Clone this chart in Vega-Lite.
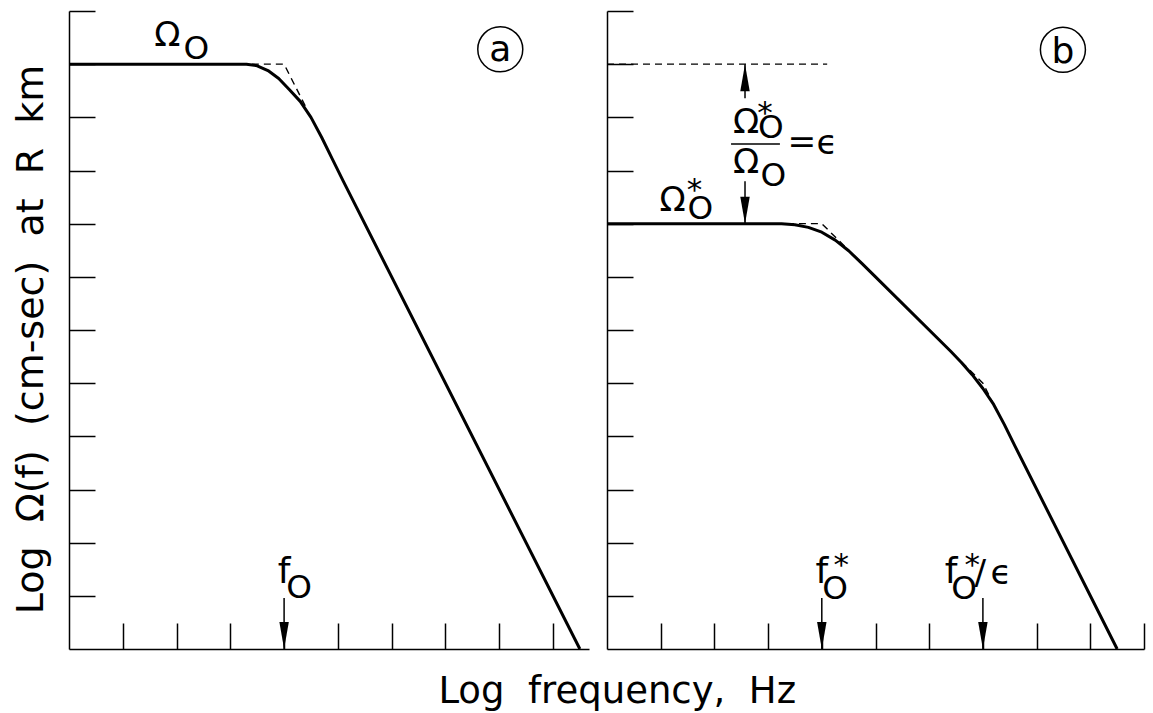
{
  "$schema": "https://vega.github.io/schema/vega-lite/v6.json",
  "background": "white",
  "padding": {"left": 12, "top": 10, "right": 5, "bottom": 2},
  "config": {
    "view": {"stroke": null},
    "font": "DejaVu Sans",
    "axis": {
      "labels": false,
      "grid": false,
      "tickSize": -26,
      "tickWidth": 1.5,
      "tickColor": "black",
      "domainColor": "black",
      "domainWidth": 1.5,
      "titleFont": "DejaVu Sans",
      "titleFontSize": 38,
      "titleFontWeight": "normal",
      "titleColor": "black",
      "titlePadding": 18
    }
  },
  "title": {
    "text": "Log\u00a0\u00a0frequency,\u00a0\u00a0Hz",
    "orient": "bottom",
    "anchor": "start",
    "align": "center",
    "dx": 605,
    "font": "DejaVu Sans",
    "fontSize": 37,
    "fontWeight": "normal",
    "color": "black",
    "baseline": "alphabetic",
    "offset": 52
  },
  "datasets": {
    "linesA": [
      {"s": "solid", "seg": "a", "x": 0, "y": 11},
      {"s": "solid", "seg": "a", "x": 3.3, "y": 11},
      {"s": "solid", "seg": "a", "x": 3.5, "y": 10.97},
      {"s": "solid", "seg": "a", "x": 3.7, "y": 10.88},
      {"s": "solid", "seg": "a", "x": 3.9, "y": 10.73},
      {"s": "solid", "seg": "a", "x": 4.1, "y": 10.52},
      {"s": "solid", "seg": "a", "x": 4.3, "y": 10.3},
      {"s": "solid", "seg": "a", "x": 4.5, "y": 10.0},
      {"s": "solid", "seg": "a", "x": 4.7, "y": 9.62},
      {"s": "solid", "seg": "a", "x": 4.9, "y": 9.21},
      {"s": "solid", "seg": "a", "x": 5.1, "y": 8.8},
      {"s": "solid", "seg": "a", "x": 9.5, "y": 0},
      {"s": "dash", "seg": "d1", "x": 3.4, "y": 11},
      {"s": "dash", "seg": "d1", "x": 4.0, "y": 11},
      {"s": "dash", "seg": "d1", "x": 4.4, "y": 10.2}
    ],
    "linesB": [
      {"s": "solid", "seg": "b", "x": 0, "y": 8},
      {"s": "solid", "seg": "b", "x": 3.25, "y": 8},
      {"s": "solid", "seg": "b", "x": 3.5, "y": 7.98},
      {"s": "solid", "seg": "b", "x": 3.75, "y": 7.93},
      {"s": "solid", "seg": "b", "x": 4.0, "y": 7.84},
      {"s": "solid", "seg": "b", "x": 4.25, "y": 7.69},
      {"s": "solid", "seg": "b", "x": 4.5, "y": 7.49},
      {"s": "solid", "seg": "b", "x": 4.75, "y": 7.25},
      {"s": "solid", "seg": "b", "x": 5.0, "y": 7.0},
      {"s": "solid", "seg": "b", "x": 6.4, "y": 5.6},
      {"s": "solid", "seg": "b", "x": 6.6, "y": 5.39},
      {"s": "solid", "seg": "b", "x": 6.8, "y": 5.16},
      {"s": "solid", "seg": "b", "x": 7.0, "y": 4.9},
      {"s": "solid", "seg": "b", "x": 7.2, "y": 4.6},
      {"s": "solid", "seg": "b", "x": 7.4, "y": 4.22},
      {"s": "solid", "seg": "b", "x": 7.6, "y": 3.81},
      {"s": "solid", "seg": "b", "x": 9.5, "y": 0},
      {"s": "dash", "seg": "d0", "x": 0, "y": 11},
      {"s": "dash", "seg": "d0", "x": 4.1, "y": 11},
      {"s": "dash", "seg": "d1", "x": 3.35, "y": 8},
      {"s": "dash", "seg": "d1", "x": 4.0, "y": 8},
      {"s": "dash", "seg": "d1", "x": 4.55, "y": 7.45},
      {"s": "dash", "seg": "d2", "x": 6.6, "y": 5.4},
      {"s": "dash", "seg": "d2", "x": 7.0, "y": 5.0},
      {"s": "dash", "seg": "d2", "x": 7.25, "y": 4.5}
    ],
    "textA": [
      {"t": "Ω", "x": 1.83, "y": 11.34, "role": "sym"},
      {"t": "O", "x": 2.37, "y": 11.1, "role": "sub"},
      {"t": "a", "x": 8.02, "y": 11.06, "role": "big"},
      {"t": "f", "x": 4.0, "y": 1.24, "role": "big"},
      {"t": "O", "x": 4.28, "y": 0.96, "role": "sub"}
    ],
    "textB": [
      {"t": "Ω", "x": 1.22, "y": 8.24, "role": "sym"},
      {"t": "O", "x": 1.74, "y": 8.09, "role": "sub"},
      {"t": "*", "x": 1.63, "y": 8.45, "role": "star"},
      {"t": "Ω", "x": 2.59, "y": 9.7, "role": "sym"},
      {"t": "O", "x": 3.05, "y": 9.61, "role": "sub"},
      {"t": "*", "x": 2.94, "y": 9.9, "role": "star"},
      {"t": "=", "x": 3.63, "y": 9.33, "role": "sym"},
      {"t": "ϵ", "x": 4.1, "y": 9.31, "role": "sym"},
      {"t": "Ω", "x": 2.59, "y": 8.95, "role": "sym"},
      {"t": "O", "x": 3.1, "y": 8.71, "role": "sub"},
      {"t": "b", "x": 8.49, "y": 11.02, "role": "big"},
      {"t": "f", "x": 4.0, "y": 1.24, "role": "big"},
      {"t": "O", "x": 4.25, "y": 0.94, "role": "sub"},
      {"t": "*", "x": 4.36, "y": 1.4, "role": "star"},
      {"t": "f", "x": 6.41, "y": 1.24, "role": "big"},
      {"t": "O", "x": 6.65, "y": 0.94, "role": "sub"},
      {"t": "*", "x": 6.8, "y": 1.4, "role": "star"},
      {"t": "/", "x": 6.95, "y": 1.22, "role": "sym"},
      {"t": "ϵ", "x": 7.34, "y": 1.22, "role": "sym"}
    ],
    "circA": [{"x": 8.02, "y": 11.28}],
    "circB": [{"x": 8.49, "y": 11.27}],
    "shaftsA": [{"x": 4, "y": 0, "y2": 0.96}],
    "shaftsB": [
      {"x": 2.57, "y": 11, "y2": 10.36},
      {"x": 2.57, "y": 8.8, "y2": 8},
      {"x": 4, "y": 0, "y2": 0.96},
      {"x": 7, "y": 0, "y2": 0.96}
    ],
    "headsA": [{"x": 4, "y": 0, "dir": "down"}],
    "headsB": [
      {"x": 2.57, "y": 11, "dir": "up"},
      {"x": 2.57, "y": 8, "dir": "down"},
      {"x": 4, "y": 0, "dir": "down"},
      {"x": 7, "y": 0, "dir": "down"}
    ],
    "barB": [{"x": 2.31, "x2": 3.22, "y": 9.5}]
  },
  "spacing": 15,
  "resolve": {"scale": {"x": "independent", "y": "independent"}, "axis": {"x": "independent", "y": "independent"}},
  "hconcat": [
    {
      "width": 520,
      "height": 638,
      "encoding": {
        "x": {"field": "x", "type": "quantitative", "scale": {"domain": [0, 9.67], "nice": false, "zero": false}, "axis": {"values": [1, 2, 3, 4, 5, 6, 7, 8, 9], "title": null}},
        "y": {"field": "y", "type": "quantitative", "scale": {"domain": [0, 12], "nice": false, "zero": false}, "axis": {"values": [1, 2, 3, 4, 5, 6, 7, 8, 9, 10, 11, 12], "title": "Log\u00a0\u00a0Ω(f)\u00a0\u00a0(cm-sec)\u00a0\u00a0at\u00a0\u00a0R\u00a0\u00a0km", "titleY": 328}}
      },
      "layer": [
        {"data": {"name": "linesA"}, "transform": [{"filter": "datum.s == 'dash'"}], "mark": {"type": "line", "color": "black", "strokeWidth": 1.4, "strokeDash": [7, 5]}, "encoding": {"detail": {"field": "seg"}}},
        {"data": {"name": "linesA"}, "transform": [{"filter": "datum.s == 'solid'"}], "mark": {"type": "line", "color": "black", "strokeWidth": 3, "strokeJoin": "round"}, "encoding": {"detail": {"field": "seg"}}},
        {"data": {"name": "shaftsA"}, "mark": {"type": "rule", "color": "black", "strokeWidth": 1.5}, "encoding": {"y2": {"field": "y2"}}},
        {"data": {"name": "headsA"}, "mark": {"type": "point", "filled": true, "color": "black", "opacity": 1, "size": 729}, "encoding": {"shape": {"field": "dir", "type": "nominal", "scale": {"domain": ["down", "up"], "range": ["M-0.35,-2L0.35,-2L0,0Z", "M-0.35,2L0.35,2L0,0Z"]}, "legend": null}}},
        {"data": {"name": "circA"}, "mark": {"type": "point", "shape": "circle", "size": 2025, "filled": false, "stroke": "black", "strokeWidth": 1.5, "opacity": 1}},
        {"data": {"name": "textA"}, "mark": {"type": "text", "align": "center", "baseline": "alphabetic", "font": "DejaVu Sans", "color": "black"}, "encoding": {"text": {"field": "t"}, "size": {"field": "role", "type": "ordinal", "scale": {"domain": ["big", "sym", "sub", "star"], "range": [36, 31, 25, 30]}, "legend": null}}}
      ]
    },
    {
      "width": 537,
      "height": 638,
      "encoding": {
        "x": {"field": "x", "type": "quantitative", "scale": {"domain": [0, 10], "nice": false, "zero": false}, "axis": {"values": [1, 2, 3, 4, 5, 6, 7, 8, 9, 10], "title": null}},
        "y": {"field": "y", "type": "quantitative", "scale": {"domain": [0, 12], "nice": false, "zero": false}, "axis": {"values": [1, 2, 3, 4, 5, 6, 7, 8, 9, 10, 11, 12], "title": null}}
      },
      "layer": [
        {"data": {"name": "linesB"}, "transform": [{"filter": "datum.s == 'dash'"}], "mark": {"type": "line", "color": "black", "strokeWidth": 1.4, "strokeDash": [7, 5]}, "encoding": {"detail": {"field": "seg"}}},
        {"data": {"name": "linesB"}, "transform": [{"filter": "datum.s == 'solid'"}], "mark": {"type": "line", "color": "black", "strokeWidth": 3, "strokeJoin": "round"}, "encoding": {"detail": {"field": "seg"}}},
        {"data": {"name": "shaftsB"}, "mark": {"type": "rule", "color": "black", "strokeWidth": 1.5}, "encoding": {"y2": {"field": "y2"}}},
        {"data": {"name": "barB"}, "mark": {"type": "rule", "color": "black", "strokeWidth": 1.5}, "encoding": {"x2": {"field": "x2"}}},
        {"data": {"name": "headsB"}, "mark": {"type": "point", "filled": true, "color": "black", "opacity": 1, "size": 729}, "encoding": {"shape": {"field": "dir", "type": "nominal", "scale": {"domain": ["down", "up"], "range": ["M-0.35,-2L0.35,-2L0,0Z", "M-0.35,2L0.35,2L0,0Z"]}, "legend": null}}},
        {"data": {"name": "circB"}, "mark": {"type": "point", "shape": "circle", "size": 2025, "filled": false, "stroke": "black", "strokeWidth": 1.5, "opacity": 1}},
        {"data": {"name": "textB"}, "mark": {"type": "text", "align": "center", "baseline": "alphabetic", "font": "DejaVu Sans", "color": "black"}, "encoding": {"text": {"field": "t"}, "size": {"field": "role", "type": "ordinal", "scale": {"domain": ["big", "sym", "sub", "star"], "range": [36, 31, 25, 30]}, "legend": null}}}
      ]
    }
  ]
}
